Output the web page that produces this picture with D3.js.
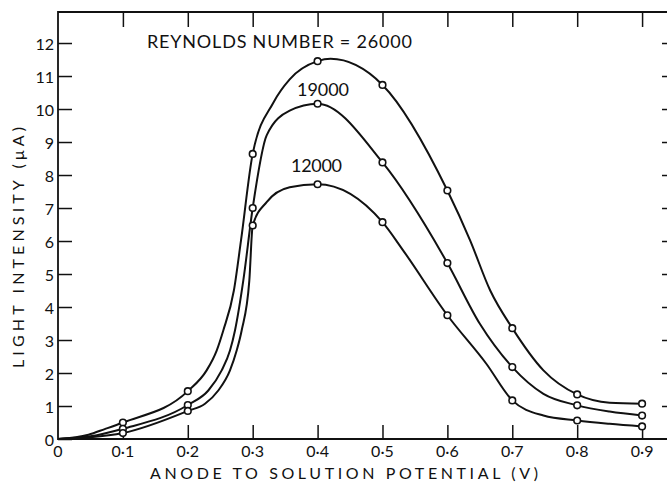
<!DOCTYPE html>
<meta charset="utf-8" />
<script src="https://d3js.org/d3.v7.js"></script>
<style>
	body { margin: 0; background: #fff; }
	text { font-family: Lato, "DejaVu Sans", sans-serif; fill: #111; }
</style>
<div id="chart"></div>
<script>
	// measured points (markers)
	const potentials = [0.1, 0.2, 0.3, 0.4, 0.5, 0.6, 0.7, 0.8, 0.9];
	const re26000 = [0.5, 1.45, 8.64, 11.45, 10.73, 7.53, 3.36, 1.35, 1.07];
	const re19000 = [0.31, 1.03, 7.0, 10.16, 8.38, 5.33, 2.18, 1.02, 0.71];
	const re12000 = [0.18, 0.85, 6.47, 7.72, 6.57, 3.75, 1.17, 0.56, 0.38];

	// extra points (shape between markers)
	const trace26000 = [[0, 0], [0.047, 0.13], [0.072, 0.3], [0.229, 2.08], [0.2445, 2.68], [0.2547, 3.29], [0.271, 4.5], [0.282, 6.02], [0.332, 10.2], [0.357, 10.9], [0.42, 11.52], [0.635, 6.02], [0.666, 4.5], [0.748, 2.08], [0.85, 1.1]];
	const trace19000 = [[0, 0], [0.05, 0.08], [0.2316, 1.47], [0.2522, 2.08], [0.265, 2.68], [0.2727, 3.29], [0.2855, 4.8], [0.3215, 9.2], [0.357, 9.95], [0.65, 3.49], [0.748, 1.37], [0.85, 0.83]];
	const trace12000 = [[0, 0], [0.05, 0.05], [0.2265, 1.07], [0.247, 1.47], [0.265, 2.08], [0.2753, 2.68], [0.283, 3.29], [0.2948, 4.8], [0.3215, 7.18], [0.357, 7.63], [0.532, 5.71], [0.66, 2.28], [0.748, 0.71], [0.85, 0.46]];

	const yTicks = [0, 1, 2, 3, 4, 5, 6, 7, 8, 9, 10, 11, 12];
	const xTicks = [0, 0.1, 0.2, 0.3, 0.4, 0.5, 0.6, 0.7, 0.8, 0.9];
	const xTickLabels = ["0", "0·1", "0·2", "0·3", "0·4", "0·5", "0·6", "0·7", "0·8", "0·9"];

	const series = [
		{ name: "26000", values: re26000, trace: trace26000 },
		{ name: "19000", values: re19000, trace: trace19000 },
		{ name: "12000", values: re12000, trace: trace12000 }
	];

	const margin = { top: 12, right: 0, bottom: 43, left: 58 };
	const W = 667, H = 482;
	const width = W - margin.left - margin.right;
	const height = H - margin.top - margin.bottom;

	const svg = d3.select("#chart").append("svg")
		.attr("width", W).attr("height", H);
	const g = svg.append("g")
		.attr("transform", "translate(" + margin.left + "," + margin.top + ")");

	const x = d3.scaleLinear().domain([0, 0.9384]).range([0, width]);
	const y = d3.scaleLinear().domain([0, 12.94]).range([height, 0]);

	// frame
	g.append("path")
		.attr("d", "M" + x(0.9384) + "," + y(0) + "H" + x(0) + "V" + y(12.94) + "H" + x(0.9384))
		.attr("fill", "none").attr("stroke", "#111").attr("stroke-width", 1.8);

	// inward ticks on all four sides
	const yAxis = d3.axisRight(y).tickValues(yTicks).tickSize(14).tickFormat("");
	g.append("g").call(yAxis).call(a => a.select(".domain").remove())
		.selectAll("line").attr("stroke", "#111").attr("stroke-width", 1.5);
	const yRight = d3.axisLeft(y).tickValues(yTicks.slice(1)).tickSize(5).tickFormat("");
	g.append("g").attr("transform", "translate(" + width + ",0)").call(yRight)
		.call(a => a.select(".domain").remove())
		.selectAll("line").attr("stroke", "#111").attr("stroke-width", 1.5);

	const xAxis = d3.axisTop(x).tickValues(xTicks.slice(1)).tickSize(14).tickFormat("");
	g.append("g").attr("transform", "translate(0," + height + ")").call(xAxis)
		.call(a => a.select(".domain").remove())
		.selectAll("line").attr("stroke", "#111").attr("stroke-width", 1.5);
	const xTop = d3.axisBottom(x).tickValues(xTicks.slice(1)).tickSize(15).tickFormat("");
	g.append("g").call(xTop).call(a => a.select(".domain").remove())
		.selectAll("line").attr("stroke", "#111").attr("stroke-width", 1.5);

	// tick labels
	g.selectAll(".ylab").data(yTicks).enter().append("text")
		.attr("x", -4).attr("y", d => y(d)).attr("dy", "0.42em")
		.attr("text-anchor", "end").style("font-size", "16px").text(d => d);
	g.selectAll(".xlab").data(xTicks).enter().append("text")
		.attr("x", d => x(d)).attr("y", height + 18)
		.attr("text-anchor", "middle").style("font-size", "16px")
		.text((d, i) => xTickLabels[i]);

	// axis titles
	svg.append("text").attr("x", 150).attr("y", 479)
		.attr("textLength", 388).attr("lengthAdjust", "spacing")
		.style("font-size", "16px").text("ANODE TO SOLUTION POTENTIAL (V)");
	svg.append("text")
		.attr("transform", "translate(24,368) rotate(-90)")
		.attr("textLength", 241).attr("lengthAdjust", "spacing")
		.style("font-size", "16px").text("LIGHT INTENSITY (μA)");

	// curves
	const line = d3.line().x(d => x(d[0])).y(d => y(d[1]))
		.curve(d3.curveMonotoneX);
	series.forEach(s => {
		const pts = s.trace.concat(potentials.map((p, i) => [p, s.values[i]]))
			.sort((a, b) => a[0] - b[0]);
		g.append("path").datum(pts).attr("d", line)
			.attr("fill", "none").attr("stroke", "#111").attr("stroke-width", 2);
	});
	series.forEach(s => {
		g.selectAll(null).data(potentials.map((p, i) => [p, s.values[i]])).enter()
			.append("circle")
			.attr("cx", d => x(d[0])).attr("cy", d => y(d[1])).attr("r", 3.3)
			.attr("fill", "#fff").attr("stroke", "#111").attr("stroke-width", 1.6);
	});

	// annotations
	svg.append("text").attr("x", 147).attr("y", 48)
		.attr("textLength", 265).attr("lengthAdjust", "spacing")
		.style("font-size", "18px").text("REYNOLDS NUMBER = 26000");
	svg.append("text").attr("x", 297).attr("y", 96)
		.attr("textLength", 52).attr("lengthAdjust", "spacing")
		.style("font-size", "18px").text("19000");
	svg.append("text").attr("x", 291).attr("y", 172)
		.attr("textLength", 51).attr("lengthAdjust", "spacing")
		.style("font-size", "18px").text("12000");
</script>
